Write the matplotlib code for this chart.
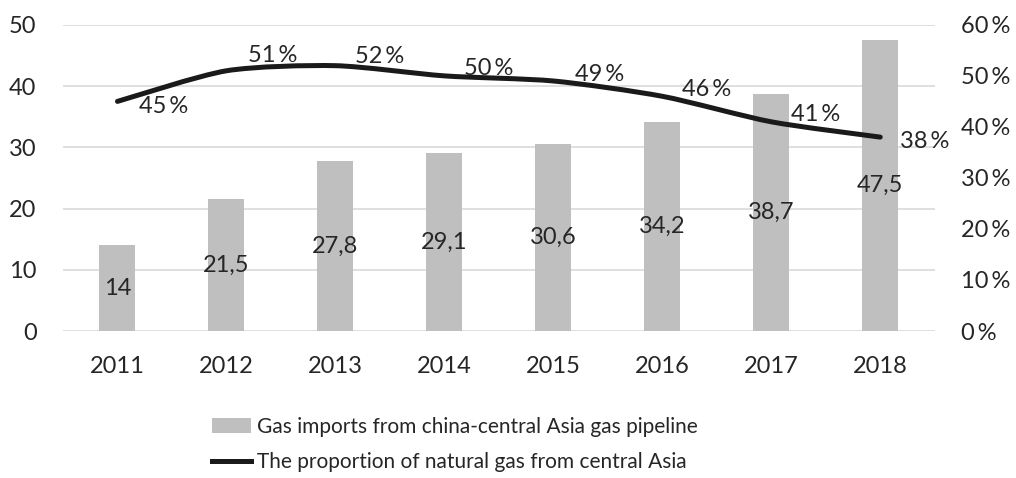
#!/usr/bin/env python3
"""
Gas imports from the China-Central Asia pipeline and the central Asia share.
"""

import numpy as np
import matplotlib
matplotlib.use('Agg')
import matplotlib.pyplot as plt
from matplotlib.path import Path
from matplotlib.patches import PathPatch
from matplotlib.lines import Line2D
from matplotlib.patches import Patch

plt.rcParams['font.family'] = ['Lato', 'DejaVu Sans']

# Data
years = ['2011', '2012', '2013', '2014', '2015', '2016', '2017', '2018']
imports = [14, 21.5, 27.8, 29.1, 30.6, 34.2, 38.7, 47.5]
share = [45, 51, 52, 50, 49, 46, 41, 38]

left_ticks = [0, 10, 20, 30, 40, 50]
right_ticks = [0, 10, 20, 30, 40, 50, 60]

# label offsets for the line values (points), kept apart from the data
share_offsets = [(33, -4), (33, 11), (32, 6.5), (32, 5), (33, 4.5), (32, 5), (32, 5), (32, -3)]

bar_color = '#bfbfbf'
grid_color = '#d9d9d9'
line_color = '#1a1a1a'
text_color = '#262626'
fs = 17
legend_fs = 15


def smooth_path(xs, ys, k=8.0):
    # bezier through the points, a gentle smoothing like Excel's smoothed line
    pts = np.column_stack([xs, ys]).astype(float)
    verts = [pts[0]]
    codes = [Path.MOVETO]
    n = len(pts)
    for i in range(n - 1):
        p0 = pts[i - 1] if i > 0 else pts[i]
        p1 = pts[i]
        p2 = pts[i + 1]
        p3 = pts[i + 2] if i + 2 < n else pts[i + 1]
        c1 = p1 + (p2 - p0) / k
        c2 = p2 - (p3 - p1) / k
        verts += [c1, c2, p2]
        codes += [Path.CURVE4] * 3
    return Path(verts, codes)


def main():
    fig = plt.figure(figsize=(10.16, 4.78), dpi=100)
    ax = fig.add_axes([0.062, 0.3075, 0.858, 0.6405])
    ax2 = ax.twinx()

    x = np.arange(len(years))
    ax.bar(x, imports, width=0.33, color=bar_color, zorder=2)
    for xi, v in zip(x, imports):
        ax.text(xi, v / 2, f'{v:g}'.replace('.', ','), ha='center', va='center',
                fontsize=fs, color=text_color, zorder=5)

    ax.set_xlim(-0.5, len(years) - 0.5)
    ax.set_ylim(0, 50)
    ax.set_yticks(left_ticks)
    ax.set_xticks(x)
    ax.set_xticklabels(years)
    ax.yaxis.grid(True, color=grid_color, linewidth=1.2, zorder=0)
    ax.set_axisbelow(True)
    ax.tick_params(axis='both', length=0, labelsize=fs, colors=text_color)
    ax.tick_params(axis='y', pad=19)
    ax.tick_params(axis='x', pad=18)

    ax2.set_ylim(0, 60)
    ax2.set_yticks(right_ticks)
    ax2.set_yticklabels([f'{t}\u2009%' for t in right_ticks])
    ax2.tick_params(axis='y', length=0, labelsize=fs, colors=text_color, pad=19)

    path = smooth_path(x, share)
    ax2.add_patch(PathPatch(path, facecolor='none', edgecolor=line_color,
                            linewidth=3.6, capstyle='round', joinstyle='round', zorder=4))
    for xi, v, off in zip(x, share, share_offsets):
        ax2.annotate(f'{v}\u2009%', (xi, v), xytext=off, textcoords='offset points',
                     ha='center', va='center', fontsize=fs, color=text_color)

    for a in (ax, ax2):
        for s in a.spines.values():
            s.set_visible(False)

    handles = [Patch(facecolor=bar_color, edgecolor='none'),
               Line2D([0], [0], color=line_color, linewidth=3.6)]
    labels = ['Gas imports from china-central Asia gas pipeline',
              'The proportion of natural gas from central Asia']
    fig.legend(handles, labels, loc='lower left', bbox_to_anchor=(0.19, -0.027),
               frameon=False, fontsize=legend_fs, labelcolor=text_color,
               handlelength=1.9, handletextpad=0.25, labelspacing=0.75)

    fig.savefig('out.png', dpi=100)


if __name__ == '__main__':
    main()
